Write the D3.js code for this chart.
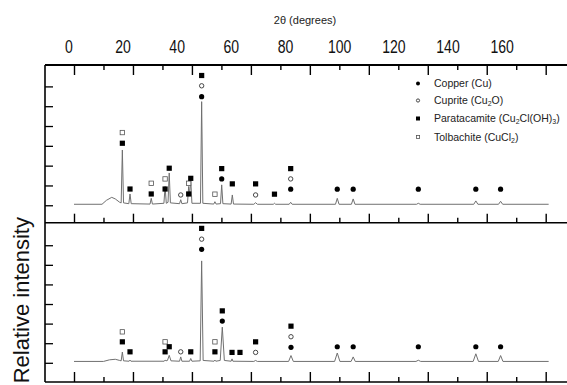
<!DOCTYPE html>
<html><head><meta charset="utf-8">
<script src="https://cdn.jsdelivr.net/npm/d3@7"></script>
<style>
html,body{margin:0;padding:0;background:#fff;}
svg{display:block;}
</style></head>
<body>
<svg id="chart" width="567" height="385"></svg>
<script>
// ---------- DATA ----------
const xTicks = [0, 20, 40, 60, 80, 100, 120, 140, 160];
const xMinorTicks = [10, 30, 50, 70, 90, 110, 130, 150];
const yTicks = [0, 1, 2, 3, 4, 5, 6];
const xTitle = "2\u03B8 (degrees)";
const yTitle = "Relative intensity";
const phaseNames = ["Copper (Cu)", "Cuprite (Cu2O)", "Paratacamite (Cu2Cl(OH)3)", "Tolbachite (CuCl2)"];

// upper pattern: [2theta, intensity]
const upperPattern = [
 [0,0.05],[9.5,0.05],[11,0.25],[12.8,0.4],[14,0.32],[15.5,0.15],[16.0,0.12],[16.4,2.79],[16.8,0.12],
 [18.6,0.08],[19.0,0.57],[19.4,0.08],[25.8,0.06],[26.2,0.35],[26.6,0.06],[30.5,0.1],[30.9,0.95],[31.3,0.1],
 [31.9,0.15],[32.3,1.63],[32.7,0.12],[35.8,0.08],[36.2,0.28],[36.6,0.08],[38.5,0.12],[38.9,0.95],[39.2,0.5],
 [39.6,1.28],[40.0,0.1],[42.9,0.1],[43.3,5.23],[43.7,0.1],[47.4,0.06],[47.8,0.18],[48.2,0.06],[49.7,0.08],
 [50.1,1.03],[50.5,0.08],[53.3,0.06],[53.7,0.52],[54.1,0.06],[61,0.05],[61.6,0.13],[62.2,0.05],[67.6,0.05],
 [68,0.1],[68.4,0.05],[73,0.05],[73.5,0.15],[74,0.05],[88.7,0.05],[89.3,0.35],[89.9,0.05],[94.1,0.05],
 [94.7,0.32],[95.3,0.05],[116.2,0.05],[116.8,0.1],[117.4,0.05],[135.6,0.05],[136.3,0.22],[137,0.05],
 [144,0.05],[144.7,0.2],[145.4,0.05],[161,0.05]
];
// lower pattern: [2theta, intensity]
const lowerPattern = [
 [0,0.07],[10,0.07],[12,0.15],[14,0.18],[15.5,0.12],[16.0,0.1],[16.4,0.55],[16.8,0.1],[18.7,0.08],[19,0.14],
 [19.3,0.08],[30.6,0.08],[30.9,0.14],[31.2,0.1],[31.7,0.12],[32.3,0.38],[32.9,0.1],[35.8,0.08],[36.2,0.3],
 [36.6,0.08],[39.2,0.08],[39.6,0.22],[40.0,0.08],[42.8,0.1],[43.3,5.2],[43.8,0.12],[47.5,0.08],[47.8,0.14],
 [48.1,0.08],[49.6,0.12],[50.3,1.82],[51.0,0.12],[53.3,0.08],[53.6,0.2],[53.9,0.08],[61,0.07],[61.6,0.12],
 [62.2,0.07],[72.8,0.07],[73.6,0.37],[74.4,0.07],[88.4,0.07],[89.3,0.5],[90.2,0.07],[94,0.07],[94.7,0.3],
 [95.4,0.07],[116,0.07],[116.8,0.13],[117.6,0.07],[135.4,0.07],[136.3,0.46],[137.2,0.07],[143.9,0.07],
 [144.7,0.37],[145.5,0.07],[161,0.07]
];
// phase markers: [2theta, level, phase index] (0 Cu, 1 Cu2O, 2 paratacamite, 3 tolbachite)
const upperMarkers = [
 [16.4,3.13,2],[16.4,3.67,3],[19.0,0.82,2],[26.2,0.57,2],[26.2,1.11,3],[30.9,0.82,2],[30.9,1.33,3],
 [32.3,1.87,2],[36.2,0.52,1],[38.9,0.57,2],[38.9,1.11,3],[39.6,1.36,2],
 [43.3,5.48,0],[43.3,6.03,1],[43.3,6.55,2],[47.8,0.56,3],[50.1,1.33,0],[50.1,1.85,2],[53.7,1.08,2],
 [61.6,0.52,1],[61.6,1.08,2],[68,0.56,2],[73.5,0.81,0],[73.5,1.33,1],[73.5,1.85,2],
 [89.3,0.81,0],[94.7,0.81,0],[116.8,0.81,0],[136.3,0.81,0],[144.7,0.81,0]
];
const lowerMarkers = [
 [16.4,1.07,2],[16.4,1.58,3],[19.0,0.56,2],[30.9,0.56,2],[30.9,1.07,3],[32.3,0.82,2],[36.2,0.56,1],
 [39.6,0.56,2],[43.3,5.79,0],[43.3,6.31,1],[43.3,6.86,2],[47.8,0.56,2],[47.8,1.07,3],[50.3,2.13,0],
 [50.3,2.65,2],[53.6,0.53,2],[56.3,0.53,2],[61.6,0.53,1],[61.6,1.07,2],[73.6,0.79,0],[73.6,1.33,1],
 [73.6,1.87,2],[89.3,0.82,0],[94.7,0.82,0],[116.8,0.82,0],[136.3,0.82,0],[144.7,0.82,0]
];

// ---------- DRAW ----------
const svg = d3.select("#chart");
const pLeft = 45, pRight = 620, pTop = 65, pMid = 222.7, pBottom = 382;
const x = d3.scaleLinear().domain([0,160]).range([74, 545.7]);
const xLab = d3.scaleLinear().domain([0,160]).range([68.3, 501.7]);
const yUp = d3.scaleLinear().domain([-0.88, 7.08]).range([pMid, pTop]);
const yLo = d3.scaleLinear().domain([-0.98, 7.15]).range([pBottom, pMid]);

const sans = "'Liberation Sans',Arial,sans-serif";

// top label axis (labels only)
const gLab = svg.append("g").attr("transform","translate(0,53)")
  .call(d3.axisTop(xLab).tickValues(xTicks).tickSize(0).tickPadding(0).tickFormat(d3.format("d")));
gLab.select(".domain").remove();
gLab.selectAll("text").attr("font-family", sans).attr("font-size", 19).attr("fill","#111")
  .attr("dy", 0).attr("transform","scale(0.74,1)");

svg.append("text").attr("x", 305).attr("y", 24).attr("text-anchor","middle")
  .attr("font-family", sans).attr("font-size", 11).attr("fill","#222").text(xTitle);

// tick axes helper
function xTickAxis(y, dir, major, minor){
  const ax = dir === "down" ? d3.axisBottom : d3.axisTop;
  const g1 = svg.append("g").attr("transform",`translate(0,${y})`)
    .call(ax(x).tickValues(xTicks).tickSize(major).tickFormat(""));
  const g2 = svg.append("g").attr("transform",`translate(0,${y})`)
    .call(ax(x).tickValues(xMinorTicks).tickSize(minor).tickFormat(""));
  [g1,g2].forEach(g=>{ g.select(".domain").remove(); g.selectAll("line").attr("stroke","#000").attr("stroke-width",1.4); });
}
xTickAxis(pTop, "down", 10, 5);
xTickAxis(pMid, "up", 9, 5);
xTickAxis(pBottom, "up", 10, 5);

function yTickAxis(scale){
  const g = svg.append("g").attr("transform",`translate(${pLeft},0)`)
    .call(d3.axisRight(scale).tickValues(yTicks).tickSize(8).tickFormat(""));
  g.select(".domain").remove();
  g.selectAll("line").attr("stroke","#000").attr("stroke-width",1.3);
}
yTickAxis(yUp); yTickAxis(yLo);

// frame lines
const frame = svg.append("g").attr("stroke","#000").attr("fill","none");
frame.append("line").attr("x1",pLeft).attr("x2",pRight).attr("y1",pTop).attr("y2",pTop).attr("stroke-width",2);
frame.append("line").attr("x1",pLeft).attr("x2",pRight).attr("y1",pMid).attr("y2",pMid).attr("stroke-width",1.6);
frame.append("line").attr("x1",pLeft).attr("x2",pRight).attr("y1",pBottom).attr("y2",pBottom).attr("stroke-width",1.6);
frame.append("line").attr("x1",pLeft).attr("x2",pLeft).attr("y1",pTop).attr("y2",pBottom).attr("stroke-width",1.6);

// patterns
function drawPattern(data, y){
  const line = d3.line().x(d=>x(d[0])).y(d=>y(d[1]));
  svg.append("path").datum(data).attr("d", line)
    .attr("fill","none").attr("stroke","#707070").attr("stroke-width",1);
}
drawPattern(upperPattern, yUp);
drawPattern(lowerPattern, yLo);

// markers
function marker(g, type, cx, cy, s){
  if(type===0) g.append("circle").attr("cx",cx).attr("cy",cy).attr("r",s/2).attr("fill","#000");
  else if(type===1) g.append("circle").attr("cx",cx).attr("cy",cy).attr("r",s/2-0.4).attr("fill","#fff").attr("stroke","#333").attr("stroke-width",0.9);
  else if(type===2) g.append("rect").attr("x",cx-s/2).attr("y",cy-s/2).attr("width",s).attr("height",s).attr("fill","#000");
  else g.append("rect").attr("x",cx-s/2+0.4).attr("y",cy-s/2+0.4).attr("width",s-0.8).attr("height",s-0.8).attr("fill","#fff").attr("stroke","#555").attr("stroke-width",0.8);
}
function drawMarkers(list, y){
  const g = svg.append("g");
  list.forEach(m=>marker(g, m[2], x(m[0]), y(m[1]), 5.2));
}
drawMarkers(upperMarkers, yUp);
drawMarkers(lowerMarkers, yLo);

// legend
const legRows = [83.5, 100.5, 118.5, 137];
const leg = svg.append("g");
phaseNames.forEach((name,i)=>{
  marker(leg, i, 418, legRows[i], 4);
  const t = leg.append("text").attr("x",434).attr("y",legRows[i]+3.8)
    .attr("font-family", sans).attr("font-size",10.5).attr("fill","#222");
  name.split(/(\d)/).forEach(part=>{
    if(part==="") return;
    if(/^\d$/.test(part)) t.append("tspan").attr("font-size",7).attr("baseline-shift","-25%").text(part);
    else t.append("tspan").text(part);
  });
});

// y title
svg.append("text").attr("transform","translate(29,217) rotate(-90)").attr("text-anchor","end")
  .attr("font-family", sans).attr("font-size",22).attr("fill","#111").text(yTitle);
</script>
</body></html>
